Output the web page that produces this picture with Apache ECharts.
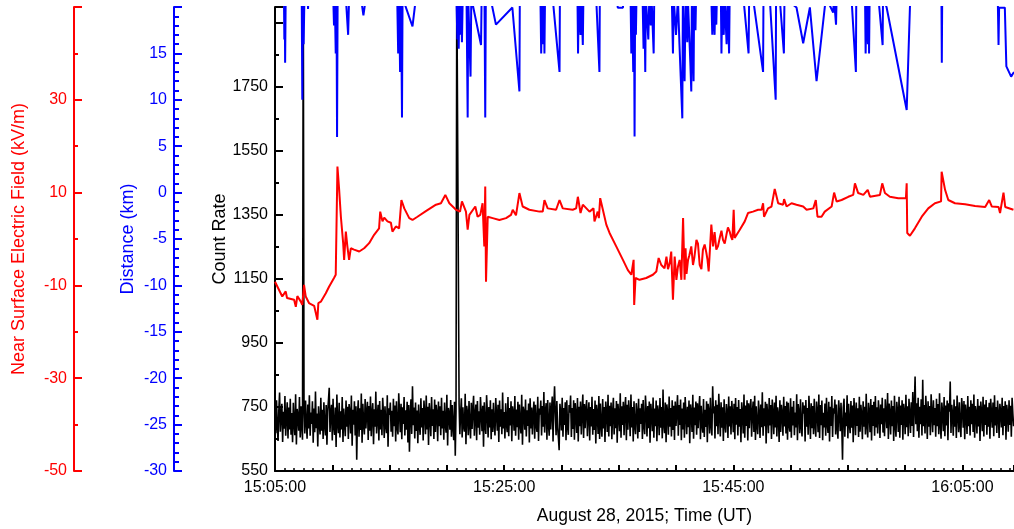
<!DOCTYPE html>
<html>
<head>
<meta charset="utf-8">
<script src="https://cdn.jsdelivr.net/npm/echarts/dist/echarts.min.js"></script>
<style>
  html, body { margin: 0; padding: 0; background: #fff; }
  #chart { width: 1014px; height: 529px; }
</style>
</head>
<body>
<div id="chart"></div>
<script>
// Time axis: seconds after 15:05:00 UT, 28 Aug 2015
const startSeconds = 15 * 3600 + 5 * 60;
const timeMin = 0;
const timeMax = 3870;
const timeLabelEvery = 1200;   // label every 20 minutes
const timeTickEvery = 300;     // major tick every 5 minutes

// Count rate (black), one sample every 4 s from 15:05:00
const countStep = 4;
const countRate = [
  752,668,771,690,644,738,795,673,726,760,641,735,682,784,660,718,765,652,748,680,776,663,731,640,
  763,699,662,790,633,744,721,676,781,655,752,692,648,2100,739,667,770,704,651,758,683,787,660,733,
  697,768,638,745,671,798,684,730,627,752,701,664,779,676,741,650,765,694,661,756,632,737,772,810,
  672,729,757,645,776,690,663,748,625,789,699,668,763,655,737,680,781,641,745,702,659,770,688,751,
  650,759,733,667,786,629,741,695,768,661,752,585,726,771,657,746,678,792,638,760,698,664,775,683,
  734,766,647,753,676,783,659,730,762,634,743,688,798,667,721,757,645,769,680,741,662,779,727,653,
  752,692,668,787,626,746,725,764,673,738,657,776,690,755,642,768,687,664,793,733,671,760,649,749,
  697,781,661,740,679,766,639,756,610,727,774,666,815,693,748,652,764,675,739,637,758,694,663,777,
  686,747,645,770,729,665,786,680,751,631,762,726,659,781,691,743,650,773,672,757,730,643,767,690,
  752,662,779,683,738,648,764,696,670,788,630,747,729,679,772,657,756,688,646,766,598,737,2100,2100,
  2100,760,665,730,777,655,749,690,673,791,634,754,731,662,769,694,652,763,681,744,785,660,726,758,
  646,769,685,737,663,781,728,674,754,626,765,693,666,787,735,655,750,686,771,649,743,672,763,696,
  661,778,727,676,757,641,770,688,743,665,795,683,734,652,762,699,671,781,659,747,692,768,643,752,
  731,676,784,660,742,687,766,648,758,697,667,788,632,751,734,679,773,658,740,691,761,639,777,683,
  748,664,730,767,651,757,693,672,782,644,745,726,770,661,753,688,797,670,735,762,648,772,696,660,
  764,680,741,783,642,752,815,729,662,769,686,655,615,760,733,677,779,657,747,694,765,646,771,689,
  663,756,732,786,656,747,681,771,648,762,727,669,778,642,751,690,767,664,736,789,653,759,684,745,
  772,659,728,765,645,750,689,782,663,744,678,770,636,757,730,666,784,650,761,695,657,775,683,750,
  641,767,735,672,788,658,754,690,764,649,733,779,664,746,684,769,638,760,727,674,793,654,752,694,
  766,662,744,781,646,757,679,771,729,659,789,686,750,642,768,692,665,762,731,652,776,672,746,697,
  760,650,772,693,665,786,737,658,753,684,767,638,760,729,674,780,654,745,690,770,643,755,731,662,
  778,685,750,652,805,696,668,764,640,758,732,663,783,688,747,658,771,678,754,647,767,691,737,787,
  660,756,694,773,646,745,680,764,654,781,729,665,751,687,770,637,758,733,672,788,651,748,693,767,
  663,762,684,746,784,649,754,696,670,775,656,741,688,768,640,760,737,667,779,693,661,815,730,752,
  652,771,690,757,665,791,729,658,765,685,749,644,774,694,670,759,733,653,783,689,752,664,769,730,
  671,760,649,778,695,750,661,772,688,744,640,765,731,667,789,654,755,691,771,645,762,684,748,775,
  657,733,767,672,785,647,752,694,665,770,730,653,758,687,796,660,746,690,766,636,760,728,668,778,
  692,756,650,773,731,665,764,686,785,658,749,727,641,771,672,757,729,660,782,689,753,667,767,648,
  763,696,673,777,654,751,692,769,662,733,686,790,646,759,735,668,774,691,658,765,729,755,642,772,
  688,747,663,785,730,650,762,684,753,665,776,695,657,767,734,671,789,653,756,693,770,646,732,686,
  761,660,779,697,669,766,642,751,691,784,656,746,729,773,664,758,687,651,771,731,674,763,694,585,
  748,776,657,733,690,787,652,760,697,668,769,685,755,640,778,730,662,764,691,746,656,782,673,757,
  727,649,768,688,751,664,791,694,655,763,734,671,775,645,756,691,766,660,784,686,749,667,771,731,
  653,758,696,779,670,746,659,774,729,684,794,650,761,732,664,770,690,753,644,785,693,657,766,735,
  672,782,654,755,694,771,648,760,733,665,788,687,752,659,776,728,669,765,691,797,656,754,845,696,
  762,674,779,654,751,696,774,661,835,690,756,667,785,731,650,768,688,753,662,790,727,671,771,693,
  747,657,776,690,759,665,793,697,651,764,732,674,781,659,755,692,770,646,762,735,830,669,757,728,
  660,773,688,752,653,786,730,671,765,694,656,778,747,685,769,649,758,728,666,784,690,751,661,771,
  696,760,672,789,654,753,731,667,775,689,754,644,767,734,674,782,658,758,694,772,663,749,688,763,
  651,776,730,685,764,659,787,692,750,669,770,728,653,760,734,686,779,662,753,691,768,648,757,731,
  673,771,694,754,657,779,729,690
];

// Near surface electric field (kV/m), red
const fieldTimes = [
  0,38,56,63,100,109,117,135,143,152,
  161,178,205,222,227,240,266,283,309,318,
  327,336,345,357,362,371,379,388,397,414,
  441,467,493,519,545,551,563,572,589,607,
  615,633,650,662,677,703,720,746,790,843,
  869,892,913,948,969,979,1000,1009,1018,1049,
  1061,1075,1087,1096,1101,1105,1114,1140,1175,1210,
  1236,1245,1262,1280,1297,1332,1385,1402,1411,1428,
  1472,1490,1507,1559,1577,1586,1594,1600,1612,1647,
  1668,1673,1690,1696,1703,1717,1735,1752,1787,1822,
  1848,1866,1878,1881,1888,1909,1944,1979,1997,2009,
  2023,2040,2050,2058,2067,2075,2084,2093,2102,2110,2119,2128,
  2137,2145,2150,2155,2163,2170,2180,2189,2196,2207,2215,2224,
  2233,2241,2250,2259,2265,2271,2278,2285,2294,2302,2311,2320,
  2329,2338,2346,2355,2364,2372,2381,2388,2395,2402,2407,2434,
  2460,2477,2503,2530,2548,2556,2561,2582,2600,2617,
  2635,2661,2666,2679,2705,2731,2766,2784,2819,2832,
  2841,2862,2879,2915,2928,2941,2967,3002,3028,3037,
  3054,3081,3104,3116,3168,3180,3194,3220,3264,3304,
  3308,3311,3325,3351,3387,3421,3456,3488,3491,3509,
  3526,3561,3614,3666,3719,3740,3754,3789,3797,3815,
  3824,3867
];
const fieldValues = [
  -9.2,-12.4,-11.3,-12.7,-13.1,-14.6,-12.3,-13.5,-14.2,-9.9,
  -12.4,-13.8,-14.4,-17.4,-13.8,-13.5,-11.7,-10.3,-8.4,-7.7,
  15.6,10.6,4.8,-0.9,-4.5,1.6,-1.6,-4.5,-2.0,-2.3,
  -2.7,-2.0,-0.9,0.9,2.3,5.9,3.8,4.6,3.8,3.5,
  1.6,2.7,2.3,8.4,6.6,4.5,4.1,4.8,6.0,7.4,
  7.7,9.5,7.7,6.3,5.9,8.1,5.9,2.0,5.2,7.0,
  4.8,5.2,7.7,-1.6,11.3,-9.2,4.8,4.5,4.1,4.5,
  5.2,6.3,5.1,9.9,7.0,6.3,5.9,5.9,8.4,6.6,
  6.3,8.4,6.6,6.3,6.6,9.1,9.5,5.6,7.4,5.9,
  6.6,3.8,5.9,4.5,8.8,6.3,3.1,1.3,-1.6,-4.5,
  -6.7,-7.7,-4.5,-14.2,-8.4,-8.8,-8.4,-7.7,-7.0,-4.1,
  -5.6,-6.3,-3.8,-6.5,-5.2,-2.7,-13.1,-3.8,-8.8,-6.0,-4.5,-8.8,
  4.5,-8.8,-2.0,-7.5,-4.5,-3.5,-1.6,-5.6,-4.0,-0.2,-1.0,-5.6,
  -6.5,-2.3,-1.2,-3.0,-4.5,-7.0,-2.0,3.1,-1.6,1.5,-2.3,-1.5,
  0.2,1.8,-0.2,-1.0,0.9,2.5,1.6,0.5,-0.2,6.3,0.2,2.0,
  3.8,5.6,5.9,6.3,6.3,7.7,4.8,6.6,7.0,10.8,
  7.7,7.4,8.6,7.0,7.7,7.4,7.0,6.3,6.6,8.4,
  4.8,4.8,5.9,7.0,10.0,8.1,8.4,9.1,9.5,12.0,
  9.9,9.5,10.6,9.1,9.5,12.0,9.9,9.1,8.8,8.8,
  12.0,1.3,0.7,2.3,4.8,6.6,7.7,8.1,14.5,10.6,
  8.4,7.7,7.5,7.1,6.9,8.4,7.0,6.9,5.6,10.0,
  6.9,6.3
];

// Lightning distance (km), blue; values above the axis top are cut off
const distanceTimes = [
  0,
  47,49,51,53,56,
  140,143,146,150,154,
  171,173,175,
  305,309,313,318,322,325,328,
  371,383,388,
  450,463,476,
  640,645,650,655,660,665,668,720,738,
  950,955,958,962,966,970,975,979,983,
  1003,1009,1012,
  1020,1024,1028,
  1035,1079,1082,
  1097,1101,1104,
  1128,1157,1243,1253,1280,1282,
  1390,1394,1398,1404,1408,1411,1414,
  1454,1490,1492,
  1584,1587,1591,1600,1604,1612,1615,
  1682,1699,1701,
  1790,1795,1822,1826,
  1862,1866,1870,1876,1880,1883,1886,1890,1893,
  1925,1930,1934,1939,1942,1955,1960,1968,1972,1983,1986,
  2078,2084,2088,2100,2110,2118,2133,2136,2145,2150,2159,2162,2175,2180,2183,2192,2195,2202,2205,
  2285,2290,2294,2302,2306,2311,2314,
  2335,2338,2342,2350,2355,2365,2370,2378,2381,
  2453,2480,2483,
  2503,2556,2558,
  2591,2622,2624,
  2643,2665,2668,
  2731,2766,2801,2836,2879,
  2886,2923,2927,2938,2941,
  3019,3042,3044,
  3090,3093,3097,3105,3109,3111,3114,
  3160,3182,3184,
  3203,3308,3325,3330,
  3490,3492,3494,
  3785,3789,3792,3822,3830,3855,3870
];
const distanceValues = [
  21,
  21,16.5,21,14.0,21,
  21,10.0,21,16.0,21,
  21,19.8,21,
  21,18.0,21,15.0,21,6.0,21,
  21,17.0,21,
  21,19.1,21,
  21,15.0,21,13.0,21,8.1,21,17.9,21,
  21,16.5,21,15.5,21,17.0,21,16.2,21,
  21,8.1,21,
  21,12.5,21,
  21,15.9,21,
  21,8.1,21,
  21,18.1,19.95,19.95,10.9,21,
  21,15.0,21,16.0,21,15.0,21,
  21,13.0,21,
  21,15.0,21,17.0,21,15.9,21,
  21,13.0,21,
  21,19.93,19.93,21,
  21,15.0,21,13.0,21,6.05,21,17.0,21,
  21,15.5,21,13.0,21,16.5,21,18.0,21,15.0,21,
  21,15.0,21,17.0,21,16.0,8.0,21,12.0,21,16.2,21,14.0,10.9,21,12.0,21,17.5,21,
  21,17.0,21,17.0,21,18.1,21,
  21,15.0,21,17.0,21,16.0,21,15.0,21,
  21,15.0,21,
  21,13.0,21,
  21,10.0,21,
  21,15.0,21,
  19.95,16.1,19.95,12.0,19.95,
  21,19.4,21,18.1,21,
  21,13.0,21,
  21,15.0,21,16.0,21,15.0,21,
  21,15.9,21,
  19.95,8.9,19.95,21,
  21,14.0,21,
  21,15.9,19.93,19.93,13.6,12.5,13.0
];

const FONT = 'Liberation Sans, Arial, Helvetica, sans-serif';
const RED = '#ff0000';
const BLUE = '#0000ff';
const BLACK = '#000000';

function clock(v) {
  const s = startSeconds + Math.round(v);
  const hh = String(Math.floor(s / 3600)).padStart(2, '0');
  const mm = String(Math.floor((s % 3600) / 60)).padStart(2, '0');
  const ss = String(s % 60).padStart(2, '0');
  return hh + ':' + mm + ':' + ss;
}

function pairs(times, values) {
  return times.map((t, i) => [t, values[i]]);
}

const countData = countRate.map((v, i) => [i * countStep, v]);
const fieldData = pairs(fieldTimes, fieldValues);
const distanceData = pairs(distanceTimes, distanceValues);

function leftAxis(color, min, max, interval, minorSplit, offset, name, nameGap, hideAt, minorLen) {
  return {
    type: 'value',
    position: 'left',
    offset: offset,
    min: min,
    max: max,
    interval: interval,
    name: name,
    nameLocation: 'middle',
    nameRotate: 90,
    nameGap: nameGap,
    nameMoveOverlap: false,
    nameTextStyle: { color: color, fontSize: 18, fontFamily: FONT },
    axisLine: { show: true, lineStyle: { color: color, width: 2 } },
    axisTick: { show: true, inside: true, length: 8, lineStyle: { color: color, width: 2 } },
    minorTick: { show: true, splitNumber: minorSplit, length: minorLen, lineStyle: { color: color, width: 2 } },
    axisLabel: {
      color: color, fontSize: 16, fontFamily: FONT, margin: 7,
      formatter: v => (hideAt.indexOf(v) >= 0 ? '' : String(v))
    },
    splitLine: { show: false },
    minorSplitLine: { show: false }
  };
}

const chart = echarts.init(document.getElementById('chart'), null, { renderer: 'canvas' });

chart.setOption({
  animation: false,
  backgroundColor: '#ffffff',
  grid: { left: 275, right: 0, top: 7, bottom: 58, containLabel: false, outerBoundsMode: 'none' },
  xAxis: {
    type: 'value',
    min: timeMin,
    max: timeMax,
    interval: timeTickEvery,
    name: 'August 28, 2015; Time (UT)',
    nameLocation: 'middle',
    nameGap: 36,
    nameMoveOverlap: false,
    nameTextStyle: { color: BLACK, fontSize: 17.5, fontFamily: FONT },
    axisLine: { show: true, onZero: false, lineStyle: { color: BLACK, width: 2 } },
    axisTick: { show: true, inside: true, length: 6, lineStyle: { color: BLACK, width: 2 } },
    minorTick: { show: true, splitNumber: 6, length: 3, lineStyle: { color: BLACK, width: 1.5 } },
    axisLabel: {
      color: BLACK, fontSize: 16, fontFamily: FONT, margin: 9,
      formatter: v => (v % timeLabelEvery === 0 ? clock(v) : '')
    },
    splitLine: { show: false },
    minorSplitLine: { show: false }
  },
  yAxis: [
    leftAxis(BLACK, 550, 2000, 200, 2, 0, 'Count Rate', 46, [1950, 2000], 4),
    leftAxis(BLUE, -30, 20, 5, 5, 101, 'Distance (km)', 37, [20], 5),
    leftAxis(RED, -50, 50, 20, 2, 201, 'Near Surface Electric Field (kV/m)', 46, [50], 4)
  ],
  series: [
    {
      name: 'Count Rate',
      type: 'line',
      xAxisIndex: 0,
      yAxisIndex: 0,
      data: countData,
      showSymbol: false,
      clip: true,
      lineStyle: { color: BLACK, width: 1.6 },
      z: 2
    },
    {
      name: 'Electric Field',
      type: 'line',
      xAxisIndex: 0,
      yAxisIndex: 2,
      data: fieldData,
      showSymbol: false,
      clip: true,
      lineStyle: { color: RED, width: 2 },
      z: 3
    },
    {
      name: 'Distance',
      type: 'line',
      xAxisIndex: 0,
      yAxisIndex: 1,
      data: distanceData,
      showSymbol: false,
      clip: true,
      lineStyle: { color: BLUE, width: 2 },
      z: 4
    }
  ]
});
</script>
</body>
</html>
